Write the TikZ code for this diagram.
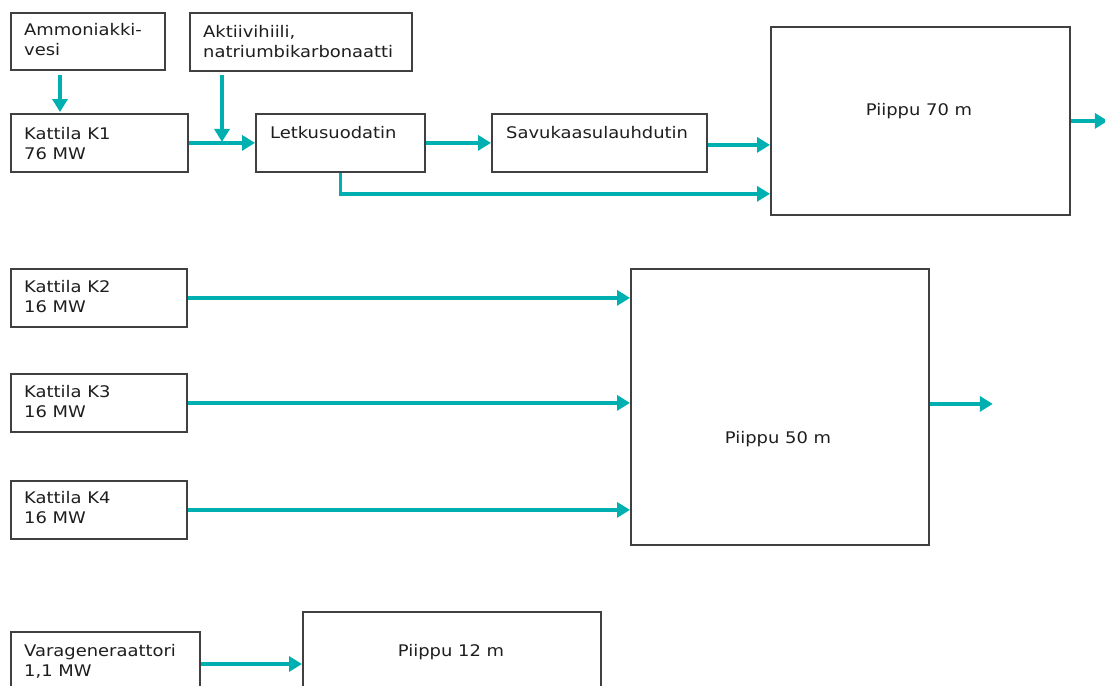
\documentclass[tikz,border=0pt]{standalone}
\usepackage{fontspec}
\setmainfont[FakeStretch=1.12]{DejaVu Sans}
\usetikzlibrary{arrows.meta,calc}
\definecolor{teal1}{RGB}{0,176,176}
\definecolor{edge}{RGB}{64,64,64}
\definecolor{txt}{RGB}{30,30,30}
\tikzset{
  box/.style={draw=edge, line width=1.8pt, rectangle, inner sep=0pt, anchor=north west},
  lbl/.style={inner sep=0pt, anchor=base west, align=left, text=txt, font=\fontsize{16}{20}\selectfont},
  clbl/.style={inner sep=0pt, anchor=base, text=txt, font=\fontsize{16}{20}\selectfont},
  flow/.style={draw=teal1, line width=3.6pt, -{Triangle[length=13pt,width=15pt]}},
}
\begin{document}
\begin{tikzpicture}[x=1pt,y=-1pt]
\useasboundingbox (0,0) rectangle (1105,685);
% boxes
\node[box, minimum width=154pt, minimum height=57pt] (ammo) at (10,12) {};
\node[box, minimum width=222pt, minimum height=58pt] (akt) at (189,12) {};
\node[box, minimum width=177pt, minimum height=58pt] (k1) at (10,113) {};
\node[box, minimum width=169pt, minimum height=58pt] (letku) at (255,113) {};
\node[box, minimum width=215pt, minimum height=58pt] (savu) at (491,113) {};
\node[box, minimum width=299pt, minimum height=188pt] (p70) at (770,26) {};
\node[box, minimum width=176pt, minimum height=58pt] (k2) at (10,268) {};
\node[box, minimum width=176pt, minimum height=58pt] (k3) at (10,373) {};
\node[box, minimum width=176pt, minimum height=58pt] (k4) at (10,480) {};
\node[box, minimum width=298pt, minimum height=276pt] (p50) at (630,268) {};
\node[box, minimum width=189pt, minimum height=70pt] (vara) at (10,631) {};
\node[box, minimum width=298pt, minimum height=90pt] (p12) at (302,611) {};
% texts (multi-line: anchor at last baseline)
\node[lbl] (tammo) at (24,56) {Ammoniakki-\\vesi};
\node[lbl] (takt) at (203,57) {Aktiivihiili,\\natriumbikarbonaatti};
\node[lbl] (tk1) at (24,159) {Kattila K1\\76 MW};
\node[lbl] (tletku) at (270,138) {Letkusuodatin};
\node[lbl] (tsavu) at (506,138) {Savukaasulauhdutin};
\node[clbl] (tp70) at (919,115) {Piippu 70 m};
\node[lbl] (tk2) at (24,312) {Kattila K2\\16 MW};
\node[lbl] (tk3) at (24,417) {Kattila K3\\16 MW};
\node[lbl] (tk4) at (24,523) {Kattila K4\\16 MW};
\node[clbl] (tp50) at (778,443) {Piippu 50 m};
\node[lbl] (tvara) at (24,676) {Varageneraattori\\1,1 MW};
\node[clbl] (tp12) at (451,656) {Piippu 12 m};
% connectors
\draw[flow] ([xshift=50pt,yshift=-4pt]ammo.south west) -- ([xshift=50pt,yshift=1pt]k1.north west);
\coordinate (aktin) at ([xshift=33pt]akt.south west);
\draw[flow] ([yshift=-3pt]aktin) -- ([yshift=1pt]aktin |- k1.east);
\draw[flow] (k1.east) -- (letku.west);
\draw[flow] (letku.east) -- (savu.west);
\draw[flow] ([yshift=-2pt]savu.east) -- ([yshift=-2pt]savu.east -| p70.west);
\coordinate (byp) at ([yshift=22pt]p70.south west);
\draw[flow] (letku.south) |- (byp);
\draw[flow] (p70.east) -- ++(37,0);
\draw[flow] (k2.east) -- (k2.east -| p50.west);
\draw[flow] (k3.east) -- (k3.east -| p50.west);
\draw[flow] (k4.east) -- (k4.east -| p50.west);
\draw[flow] ([yshift=3pt]p50.east) -- ++(63,0);
\coordinate (varaout) at ([yshift=-33pt]vara.north east);
\draw[flow] (varaout) -- (varaout -| p12.west);
\end{tikzpicture}
\end{document}
